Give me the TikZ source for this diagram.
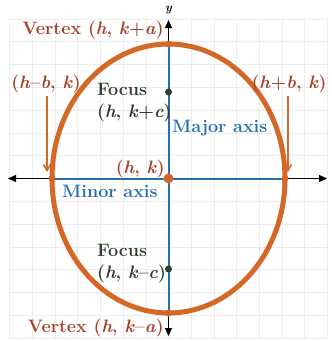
\documentclass[tikz,border=0pt]{standalone}
\usetikzlibrary{arrows.meta}
\definecolor{ell}{RGB}{212,104,40}
\definecolor{lbl}{RGB}{165,66,42}
\definecolor{axb}{RGB}{36,110,176}
\definecolor{foc}{RGB}{48,62,44}
\definecolor{grd}{RGB}{236,236,236}
\newcommand{\vi}[1]{\textit{#1}}
\tikzset{
  lab/.style={font=\fontsize{18}{21}\selectfont\bfseries, inner sep=0pt},
  redlab/.style={lab, text=lbl},
  bluelab/.style={lab, text=axb},
  foclab/.style={lab, text=foc, align=left},
  dotor/.style={circle, fill=ell, inner sep=0pt, minimum size=7pt},
  dotfc/.style={circle, fill=foc, inner sep=0pt, minimum size=7pt},
  axisline/.style={line width=1.1pt, black, {Triangle[length=8pt,width=7pt]}-{Triangle[length=8pt,width=7pt]}},
  pointer/.style={line width=1.6pt, ell, -{Straight Barb[length=6pt,width=7pt]}}
}
\begin{document}
\begin{tikzpicture}[x=1pt,y=-1pt]
\useasboundingbox (0,0) rectangle (332,341);
% grid
\foreach \i in {-7,...,7} {
  \draw[grd, line width=0.6pt] ({168.5+22.7*\i},19) -- ({168.5+22.7*\i},338);
}
\foreach \j in {-7,...,7} {
  \draw[grd, line width=0.6pt] (9,{178.5+22.8*\j}) -- (327,{178.5+22.8*\j});
}
\coordinate (C) at (168.5,178.5);
\coordinate (xl) at (8,178.5);
\coordinate (xr) at (327,178.5);
\coordinate (yt) at (168.5,20);
\coordinate (yb) at (168.5,336);
% axes
\draw[axisline] (xl) -- (xr);
\draw[axisline] (yb) -- (yt);
\node[font=\fontsize{12}{14}\selectfont\bfseries\itshape, inner sep=0pt] (ylab) at (168.5,10) {y};
% vertices and foci coordinates
\coordinate (VT) at (168.5,44);
\coordinate (VB) at (168.5,313);
\coordinate (VL) at (52,178.5);
\coordinate (VR) at (285,178.5);
% blue axes
\draw[axb, line width=2pt] (VT) -- (VB);
\draw[axb, line width=2pt] (VL) -- (VR);
% ellipse
\draw[ell, line width=5pt] (C) ellipse [x radius=116.5, y radius=134.5];
% dots
\node[dotor] (dT) at (VT) {};
\node[dotor] (dB) at (VB) {};
\node[dotor] (dL) at (VL) {};
\node[dotor] (dR) at (VR) {};
\node[dotor, minimum size=10pt] (dC) at (C) {};
\node[dotfc] (F1) at (168.5,92) {};
\node[dotfc] (F2) at (168.5,269) {};
% labels
\node[redlab, anchor=east] (vt) at (164,30) {Vertex (\vi{h}, \vi{k}+\vi{a})};
\node[redlab, anchor=east] (vb) at (164,328) {Vertex (\vi{h}, \vi{k}--\vi{a})};
\node[redlab] (hmb) at (46,84) {(\vi{h}--\vi{b}, \vi{k})};
\node[redlab] (hpb) at (289,84) {(\vi{h}+\vi{b}, \vi{k})};
\node[redlab, anchor=east] (hk) at (165,169) {(\vi{h}, \vi{k})};
\node[bluelab, anchor=west] (maj) at (172,128) {Major axis};
\node[bluelab, anchor=west] (min) at (62,191) {Minor axis};
\node[foclab, anchor=west] (f1) at (97,103) {Focus\\[1pt](\vi{h}, \vi{k}+\vi{c})};
\node[foclab, anchor=west] (f2) at (97,264) {Focus\\[1pt](\vi{h}, \vi{k}--\vi{c})};
% pointers
\coordinate (pl) at (47,96);
\coordinate (pr) at (288,96);
\draw[pointer] (pl) -- (47,172);
\draw[pointer] (pr) -- (288,172);
\end{tikzpicture}
\end{document}
